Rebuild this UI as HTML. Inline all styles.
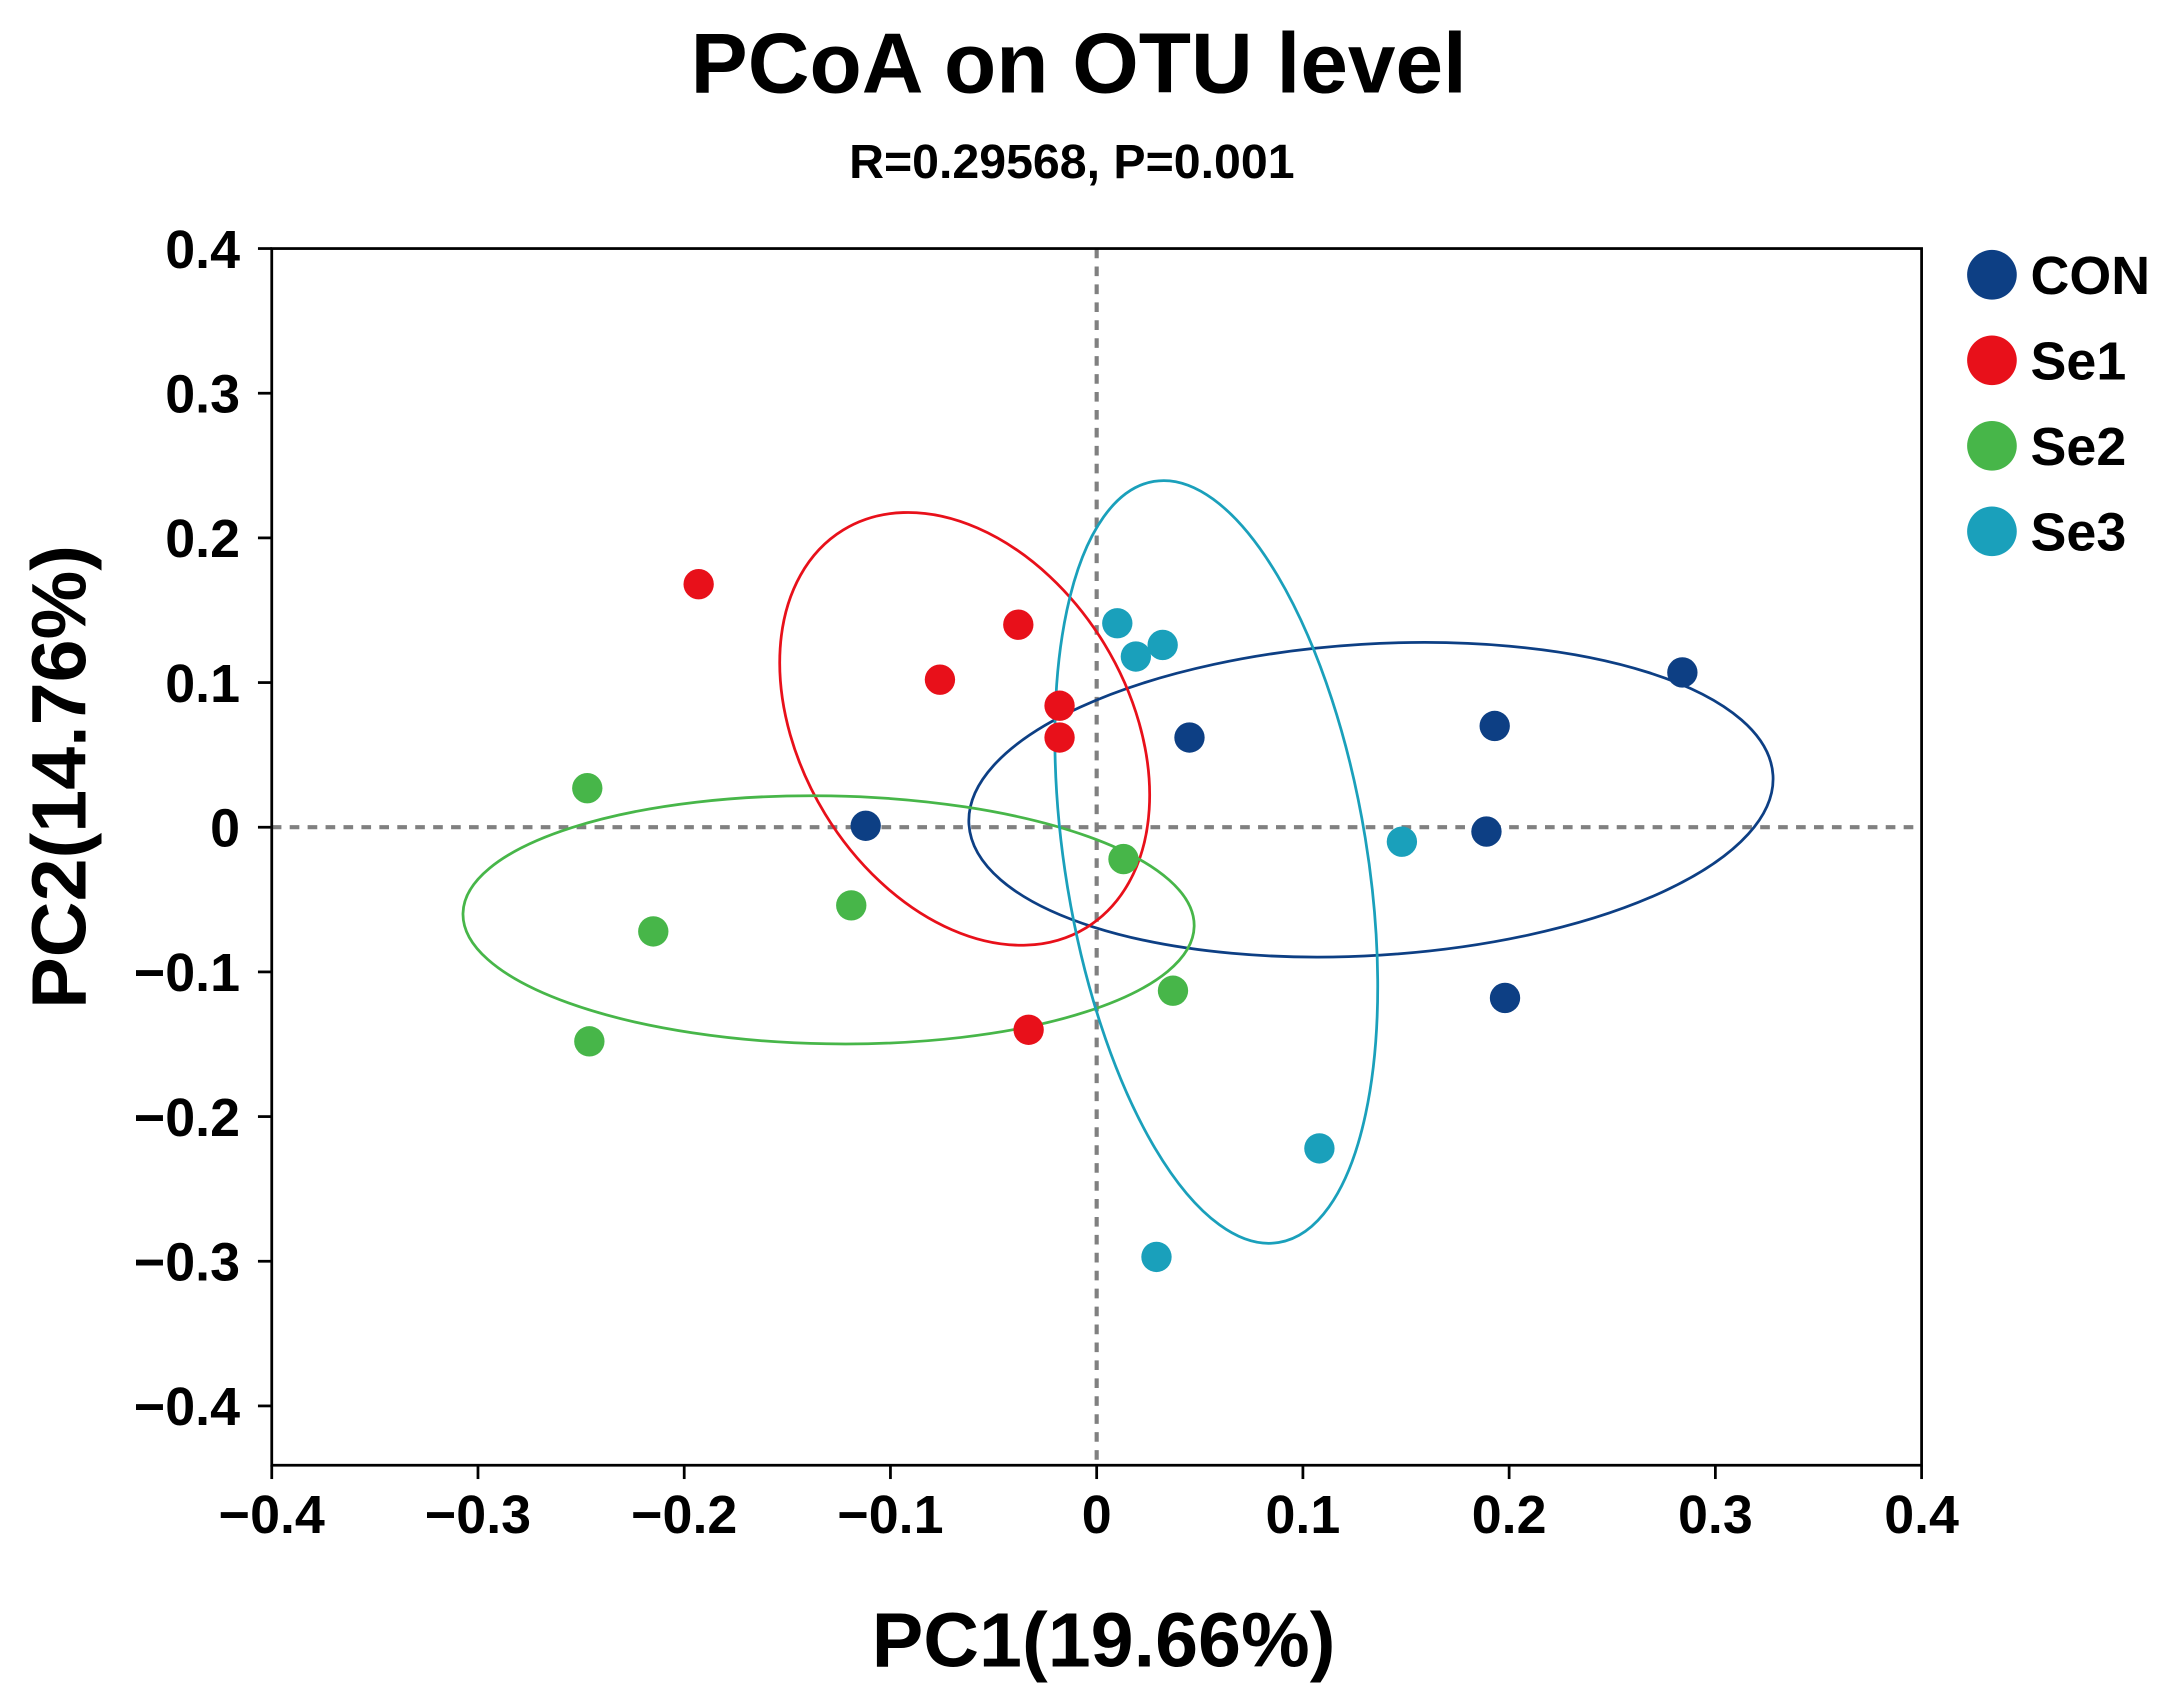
<!DOCTYPE html>
<html><head><meta charset="utf-8"><style>
html,body{margin:0;padding:0;background:#fff;}
svg{display:block;font-family:"Liberation Sans",Arial,sans-serif;font-weight:bold;}
</style></head><body>
<svg id="chart" width="2163" height="1700" viewBox="0 0 1568 1232" xmlns="http://www.w3.org/2000/svg">
<text x="782" y="67" text-anchor="middle" font-size="62">PCoA on OTU level</text>
<text x="777" y="129" text-anchor="middle" font-size="35">R=0.29568, P=0.001</text>
<text x="800" y="1208" text-anchor="middle" font-size="56">PC1(19.66%)</text>
<text transform="translate(62,563) rotate(-90)" text-anchor="middle" font-size="56">PC2(14.76%)</text>
<g id="plot"></g>
<g id="legend"></g>
</svg>
<script>
const groups = ["CON","Se1","Se2","Se3"];
const colors = ["#0d3f84","#e8101a","#47b649","#1aa0bb"];
const xTicks = [-0.4,-0.3,-0.2,-0.1,0,0.1,0.2,0.3,0.4];
const yTicks = [-0.4,-0.3,-0.2,-0.1,0,0.1,0.2,0.3,0.4];
const xTickLabels = ["\u22120.4","\u22120.3","\u22120.2","\u22120.1","0","0.1","0.2","0.3","0.4"];
const yTickLabels = ["\u22120.4","\u22120.3","\u22120.2","\u22120.1","0","0.1","0.2","0.3","0.4"];
const conX = [-0.112,0.045,0.193,0.284,0.189,0.198];
const conY = [0.001,0.062,0.070,0.107,-0.003,-0.118];
const se1X = [-0.193,-0.038,-0.076,-0.018,-0.018,-0.033];
const se1Y = [0.168,0.140,0.102,0.084,0.062,-0.140];
const se2X = [-0.247,-0.215,-0.246,-0.119,0.013,0.037];
const se2Y = [0.027,-0.072,-0.148,-0.054,-0.022,-0.113];
const se3X = [0.010,0.019,0.032,0.148,0.108,0.029];
const se3Y = [0.141,0.118,0.126,-0.010,-0.222,-0.297];
// ellipses: center x, center y, semi-axis a (x units), semi-axis b (y units), angle deg
const ellCX = [0.133,-0.064,-0.130,0.058];
const ellCY = [0.019,0.068,-0.064,-0.024];
const ellA = [0.1953,0.1130,0.1773,0.1870];
const ellB = [0.1076,0.1130,0.0857,0.1043];
const ellAng = [-3.5,58.6,1,80.7];

const X0=197,X1=1393,Y0=180,Y1=1062;
const xMin=-0.4,xMax=0.4,yTop=0.4,yBot=-0.441;
const sx=v=>X0+(v-xMin)/(xMax-xMin)*(X1-X0);
const sy=v=>Y0+(yTop-v)/(yTop-yBot)*(Y1-Y0);
const pxX=(X1-X0)/(xMax-xMin), pxY=(Y1-Y0)/(yTop-yBot);
const NS="http://www.w3.org/2000/svg";
const plot=document.getElementById('plot');
function mk(tag,attrs,parent){const e=document.createElementNS(NS,tag);for(const k in attrs)e.setAttribute(k,attrs[k]);(parent||plot).appendChild(e);return e;}

let l=mk('line',{x1:X0,x2:X1,y1:sy(0),y2:sy(0),stroke:'#808080','stroke-width':3,'stroke-dasharray':'7 6'});


l=mk('line',{x1:sx(0),x2:sx(0),y1:Y0,y2:Y1,stroke:'#808080','stroke-width':3,'stroke-dasharray':'7 6'});



for(let i=0;i<groups.length;i++){
  const e=mk('ellipse',{cx:sx(ellCX[i]),cy:sy(ellCY[i]),rx:ellA[i]*pxX,ry:ellB[i]*pxY,fill:'none',stroke:colors[i],'stroke-width':2,transform:`rotate(${ellAng[i]} ${sx(ellCX[i])} ${sy(ellCY[i])})`});
  
  
}

const fr=mk('rect',{x:X0,y:Y0,width:X1-X0,height:Y1-Y0,fill:'none',stroke:'#000','stroke-width':2});



xTicks.forEach((t,i)=>{
  const tk=mk('line',{x1:sx(t),x2:sx(t),y1:Y1,y2:Y1+10,stroke:'#000','stroke-width':2});
  
  
  const tx=mk('text',{x:sx(t),y:Y1+49,'text-anchor':'middle','font-size':39});
  tx.textContent=xTickLabels[i];
  
  
});
yTicks.forEach((t,i)=>{
  const tk=mk('line',{x1:X0-10,x2:X0,y1:sy(t),y2:sy(t),stroke:'#000','stroke-width':2});
  
  
  const tx=mk('text',{x:X0-23,y:sy(t)+14,'text-anchor':'end','font-size':39});
  tx.textContent=yTickLabels[i];
  
  
});

const XS=[conX,se1X,se2X,se3X], YS=[conY,se1Y,se2Y,se3Y];
for(let g=0;g<groups.length;g++){
  for(let j=0;j<XS[g].length;j++){
    const c=mk('circle',{cx:sx(XS[g][j]),cy:sy(YS[g][j]),r:11,fill:colors[g]});
    
    
  }
}

const lg=document.getElementById('legend');
groups.forEach((g,i)=>{
  const y=199+i*62;
  const c=mk('circle',{cx:1444,cy:y,r:18,fill:colors[i]},lg);
  
  
  const t=mk('text',{x:1472,y:y+14,'font-size':39},lg);
  t.textContent=g;
  
  
});
</script>
</body></html>
